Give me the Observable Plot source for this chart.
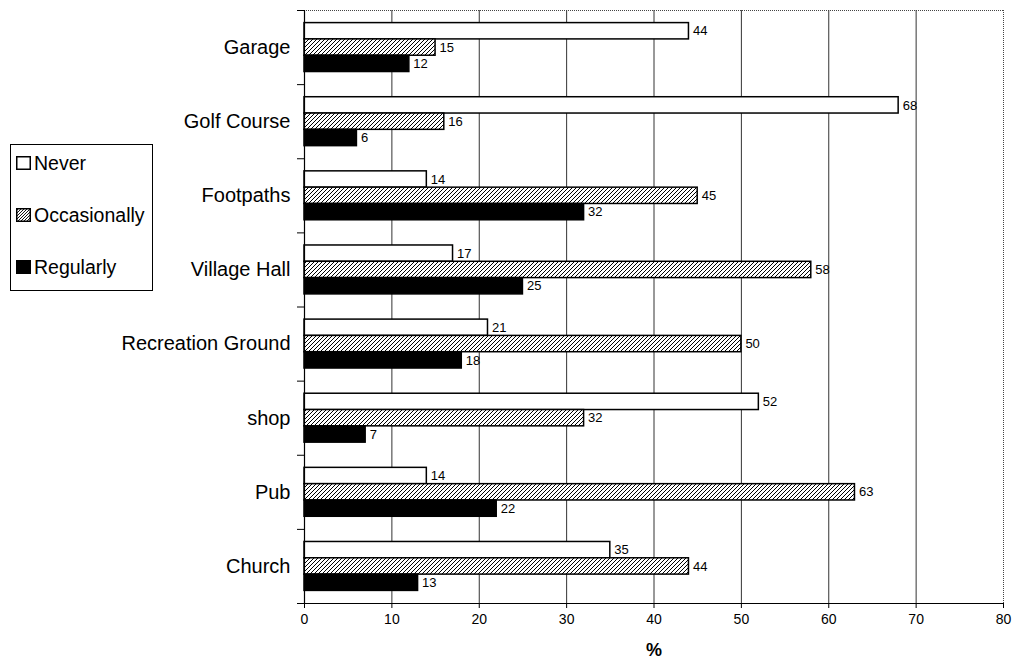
<!DOCTYPE html>
<html>
<head>
<meta charset="utf-8">
<script src="https://cdn.jsdelivr.net/npm/d3@7"></script>
<script src="https://cdn.jsdelivr.net/npm/@observablehq/plot@0.6"></script>
<style>
  html, body { margin: 0; padding: 0; background: #fff; }
  #wrap { position: relative; width: 1014px; height: 661px; font-family: "Liberation Sans", Arial, sans-serif; }
  #legend { position: absolute; left: 10px; top: 144px; width: 143px; height: 147px; border: 1px solid #000; box-sizing: border-box; background: #fff; }
  .item { position: absolute; left: 5px; display: flex; align-items: center; font-size: 19.5px; color: #000; line-height: 20px; }
  .item svg { margin-right: 3px; }
</style>
</head>
<body>
<div id="wrap">
  <div id="chart"></div>
  <div id="legend"></div>
</div>
<script>
const categories = ["Garage", "Golf Course", "Footpaths", "Village Hall", "Recreation Ground", "shop", "Pub", "Church"];
const seriesNames = ["Never", "Occasionally", "Regularly"];
const never = [44, 68, 14, 17, 21, 52, 14, 35];
const occasionally = [15, 16, 45, 58, 50, 32, 63, 44];
const regularly = [12, 6, 32, 25, 18, 7, 22, 13];
const xTicks = [0, 10, 20, 30, 40, 50, 60, 70, 80];

const seriesValues = [never, occasionally, regularly];
const fills = { "Never": "#fff", "Occasionally": "url(#hatch)", "Regularly": "#000" };
const offset = 0.17, barH = 0.22;

const data = [];
categories.forEach((cat, i) => {
  seriesNames.forEach((s, j) => {
    const y1 = i + offset + j * barH;
    data.push({ cat, series: s, value: seriesValues[j][i], y1, y2: y1 + barH, ym: y1 + barH / 2 });
  });
});

const chart = Plot.plot({
  width: 1014,
  height: 661,
  marginLeft: 304,
  marginRight: 11,
  marginTop: 10,
  marginBottom: 58,
  style: { fontFamily: "Liberation Sans, Arial, sans-serif", color: "#000", background: "#fff" },
  x: { domain: [0, 80] },
  y: { domain: [0, 8], reverse: true },
  marks: [
    Plot.ruleX(xTicks.slice(1, -1), { stroke: "#333", strokeWidth: 1 }),
    Plot.ruleY([0], { stroke: "#444", strokeDasharray: "1,1" }),
    Plot.ruleX([80], { stroke: "#444", strokeDasharray: "1,1" }),
    Plot.rectX(data, {
      x1: 0, x2: "value", y1: "y1", y2: "y2",
      fill: d => fills[d.series], stroke: "#000", strokeWidth: 1.5
    }),
    Plot.text(data, {
      x: "value", y: "ym", text: d => String(d.value),
      dx: 4, textAnchor: "start", fontSize: 13, fill: "#000"
    }),
    Plot.ruleY([8], { stroke: "#000", strokeWidth: 1.2 }),
    Plot.ruleX([0], { stroke: "#000", strokeWidth: 1.2 }),
    Plot.axisX({ ticks: xTicks, tickSize: 5, tickPadding: 6, fontSize: 14, label: null, tickFormat: d => String(d) }),
    Plot.axisY({ ticks: d3.range(8).map(i => i + 0.5), tickFormat: d => categories[Math.floor(d)], tickSize: 0, tickPadding: 14, fontSize: 20, label: null }),
    Plot.axisY({ ticks: d3.range(9), tickFormat: () => "", tickSize: 7, label: null }),
    Plot.text(["%"], { frameAnchor: "bottom", dy: 47, lineAnchor: "middle", fontSize: 18, fontWeight: "bold", fill: "#000" })
  ]
});

// hatch pattern definition
const ns = "http://www.w3.org/2000/svg";
function addHatch(svg, id) {
  const defs = document.createElementNS(ns, "defs");
  defs.innerHTML = `<pattern id="${id}" patternUnits="userSpaceOnUse" width="4" height="4">
    <rect width="4" height="4" fill="#fff"/>
    <path d="M-1,1 l2,-2 M0,4 l4,-4 M3,5 l2,-2" stroke="#000" stroke-width="1"/>
  </pattern>`;
  svg.insertBefore(defs, svg.firstChild);
}
addHatch(chart, "hatch");
document.getElementById("chart").appendChild(chart);

// legend
const legend = document.getElementById("legend");
const tops = [8, 60, 112];
seriesNames.forEach((s, j) => {
  const item = document.createElement("div");
  item.className = "item";
  item.style.top = tops[j] + "px";
  const fill = j === 1 ? "url(#hatchL)" : fills[s];
  item.innerHTML = `<svg width="15" height="14">${j === 1 ? `<defs><pattern id="hatchL" patternUnits="userSpaceOnUse" width="3" height="3"><rect width="3" height="3" fill="#fff"/><path d="M-1,1 l2,-2 M0,3 l3,-3 M2,4 l2,-2" stroke="#000" stroke-width="0.9"/></pattern></defs>` : ""}<rect x="0.75" y="0.75" width="13.5" height="12.5" fill="${fill}" stroke="#000" stroke-width="1.5"/></svg><span>${s}</span>`;
  legend.appendChild(item);
});
</script>
</body>
</html>
